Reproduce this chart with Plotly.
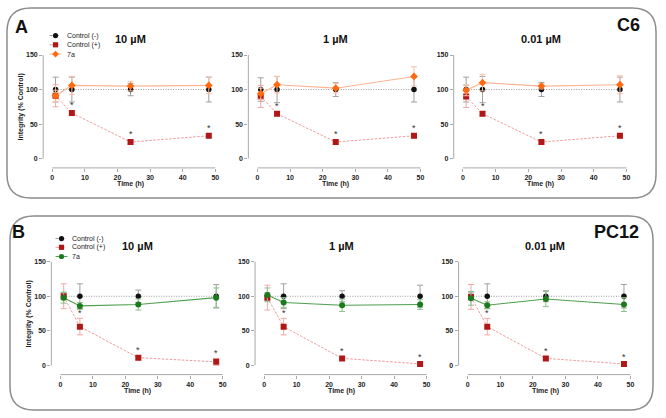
import plotly.graph_objects as go

# ---------------- data ----------------
TIME = [1, 6, 24, 48]
CONCS = ["10 µM", "1 µM", "0.01 µM"]
SERIES = ["Control (-)", "Control (+)", "7a"]
X_TICKS = [0, 10, 20, 30, 40, 50]
Y_TICKS = [0, 50, 100, 150]

# C6 cells (panel A), one row per concentration
c6_neg = [[100, 100, 100, 100], [100, 100, 100, 100], [100, 100, 100, 100]]
c6_neg_err = [[18, 18, 9, 18], [17, 19, 10, 18], [18, 19, 10, 18]]
c6_pos = [[91, 66, 24, 33], [90, 65, 24, 33], [90, 65, 24, 33]]
c6_pos_err = [[16, 3, 3, 3], [16, 3, 3, 3], [16, 3, 3, 3]]
c6_7a = [[91, 106, 105, 106], [94, 107, 102, 119], [99, 110, 105, 107]]
c6_7a_err = [[8, 13, 7, 12], [8, 12, 7, 14], [8, 12, 4, 13]]

# PC12 cells (panel B)
pc_neg = [[100, 100, 100, 100], [100, 100, 100, 100], [100, 100, 100, 100]]
pc_neg_err = [[5, 18, 9, 17], [5, 18, 8, 16], [5, 18, 8, 17]]
pc_pos = [[100, 56, 11, 5], [98, 56, 10, 2], [99, 56, 10, 2]]
pc_pos_err = [[18, 12, 3, 5], [18, 12, 2, 2], [18, 12, 2, 2]]
pc_7a = [[98, 86, 88, 98], [102, 91, 87, 88], [97, 87, 96, 88]]
pc_7a_err = [[8, 5, 8, 14], [10, 7, 9, 7], [10, 5, 11, 10]]

# ---------------- layout helpers ----------------
W, H = 666, 418
FONT = "Arial, Liberation Sans, sans-serif"


def px_x(v):
    return v / W


def px_y(v):
    return 1 - v / H


# pixel boxes of the plotting areas (left, right), rows (top, bottom)
X_DOMAINS = [
    [(43.3, 217.6), (249.1, 423.4), (455.1, 630.0)],
    [(51.5, 225.0), (255.8, 429.5), (460.0, 634.0)],
]
Y_DOMAINS = [(51.9, 166.7), (259.6, 374.4)]

NEG_MARK = "#111111"
NEG_LINE = "#9a9a9a"
POS_MARK = "#b01818"
POS_LINE = "#f29a9a"
ROW_STYLE = [
    dict(mark="#ff6a10", line="#fbb494", err="#f9c0a8", symbol="diamond", size=6),
    dict(mark="#1b7a1b", line="#4f9f4f", err="#8cc08c", symbol="circle", size=6),
]

rows = [
    (c6_neg, c6_neg_err, c6_pos, c6_pos_err, c6_7a, c6_7a_err),
    (pc_neg, pc_neg_err, pc_pos, pc_pos_err, pc_7a, pc_7a_err),
]

fig = go.Figure()
layout = dict(
    width=W, height=H, margin=dict(l=0, r=0, t=0, b=0),
    paper_bgcolor="white", plot_bgcolor="white", showlegend=False,
    font=dict(family=FONT, color="#222222"),
)
shapes = []
annotations = []

AX_COLOR = "#a8a8a8"

for r, (neg, neg_e, pos, pos_e, t7, t7_e) in enumerate(rows):
    st = ROW_STYLE[r]
    for c in range(3):
        idx = r * 3 + c + 1
        xa = "x" if idx == 1 else f"x{idx}"
        ya = "y" if idx == 1 else f"y{idx}"
        xl, xr = X_DOMAINS[r][c]
        yt, yb = Y_DOMAINS[r]
        layout["xaxis" if idx == 1 else f"xaxis{idx}"] = dict(
            domain=[px_x(xl), px_x(xr)], range=[-2.8, 50.5], anchor=ya,
            tickvals=X_TICKS, ticks="outside", ticklen=3, tickcolor=AX_COLOR,
            tickwidth=1, showline=False, showgrid=False, zeroline=False,
            tickfont=dict(size=7, family=FONT, color="#222", weight="bold"),
        )
        layout["yaxis" if idx == 1 else f"yaxis{idx}"] = dict(
            domain=[px_y(yb), px_y(yt)], range=[-13.5, 152], anchor=xa,
            tickvals=Y_TICKS, ticks="outside", ticklen=3, tickcolor=AX_COLOR,
            tickwidth=1, showline=False, showgrid=False, zeroline=False,
            tickfont=dict(size=7, family=FONT, color="#222", weight="bold"),
        )
        # detached axis lines
        shapes.append(dict(type="line", xref=xa, x0=0, x1=50,
                           yref=f"{ya} domain", y0=0, y1=0,
                           line=dict(color=AX_COLOR, width=1)))
        shapes.append(dict(type="line", xref=f"{xa} domain", x0=0, x1=0,
                           yref=ya, y0=0, y1=150,
                           line=dict(color=AX_COLOR, width=1)))

        # Control (-)
        fig.add_trace(go.Scatter(
            x=TIME, y=neg[c], xaxis=xa, yaxis=ya, mode="lines+markers",
            name=SERIES[0],
            line=dict(color=NEG_LINE, width=1, dash="1px,1.5px"),
            marker=dict(color=NEG_MARK, size=5.5, symbol="circle"),
            error_y=dict(type="data", array=neg_e[c], color="#a0a0a0",
                         thickness=1, width=3),
        ))
        # Control (+)
        fig.add_trace(go.Scatter(
            x=TIME, y=pos[c], xaxis=xa, yaxis=ya, mode="lines+markers",
            name=SERIES[1],
            line=dict(color=POS_LINE, width=1, dash="2.5px,1.5px"),
            marker=dict(color=POS_MARK, size=6, symbol="square"),
            error_y=dict(type="data", array=pos_e[c], color="#f4a8a8",
                         thickness=1, width=3),
        ))
        # 7a
        fig.add_trace(go.Scatter(
            x=TIME, y=t7[c], xaxis=xa, yaxis=ya, mode="lines+markers",
            name=SERIES[2],
            line=dict(color=st["line"], width=1.1),
            marker=dict(color=st["mark"], size=st["size"], symbol=st["symbol"]),
            error_y=dict(type="data", array=t7_e[c], color=st["err"],
                         thickness=1, width=3),
        ))
        # significance asterisks above Control (+)
        for i in range(1, len(TIME)):
            annotations.append(dict(
                xref=xa, yref=ya, x=TIME[i], y=pos[c][i] + pos_e[c][i] + 8,
                text="*", showarrow=False, yanchor="middle",
                font=dict(size=9, family=FONT, color="#333"),
            ))
        # concentration title
        annotations.append(dict(
            xref=f"{xa} domain", yref="paper", x=0.5,
            y=px_y(37 if r == 0 else 245), text=CONCS[c], showarrow=False,
            yanchor="middle",
            font=dict(size=11, family=FONT, color="#111", weight="bold"),
        ))
        # x axis title
        annotations.append(dict(
            xref=f"{xa} domain", yref="paper", x=0.5,
            y=px_y(183 if r == 0 else 391), text="Time (h)", showarrow=False,
            yanchor="middle",
            font=dict(size=7, family=FONT, color="#222", weight="bold"),
        ))
    # y axis title
    annotations.append(dict(
        xref="paper", yref="paper", x=px_x(22 if r == 0 else 29),
        y=px_y(105 if r == 0 else 313), text="Integrity (% Control)",
        showarrow=False, textangle=-90, xanchor="center", yanchor="middle",
        font=dict(size=7, family=FONT, color="#222", weight="bold"),
    ))

# panel labels
for txt, x, y, anchor in [("A", 22, 25, "center"), ("C6", 644, 23, "right"),
                          ("B", 19, 231, "center"), ("PC12", 643, 231, "right")]:
    annotations.append(dict(
        xref="paper", yref="paper", x=px_x(x), y=px_y(y), text=txt,
        showarrow=False, xanchor=anchor, yanchor="middle",
        font=dict(size=18, family=FONT, color="#111", weight="bold"),
    ))


# rounded frames
def rounded(l, t, rgt, b, rad):
    pts = [
        ("M", l + rad, t), ("L", rgt - rad, t), ("Q", rgt, t, rgt, t + rad),
        ("L", rgt, b - rad), ("Q", rgt, b, rgt - rad, b), ("L", l + rad, b),
        ("Q", l, b, l, b - rad), ("L", l, t + rad), ("Q", l, t, l + rad, t),
    ]
    out = []
    for p in pts:
        cmd = p[0]
        coords = p[1:]
        s = []
        for k in range(0, len(coords), 2):
            s.append(f"{px_x(coords[k]):.5f},{px_y(coords[k + 1]):.5f}")
        out.append(cmd + " " + " ".join(s))
    return " ".join(out) + " Z"


for (l, t, rgt, b) in [(7, 6, 658, 197), (10, 215, 655, 410)]:
    shapes.append(dict(type="path", xref="paper", yref="paper",
                       path=rounded(l, t, rgt, b, 24),
                       line=dict(color="#8c8c8c", width=1.5)))

# manual legends
LEG = [
    dict(mx=55.7, rows=[33.7, 43.0, 52.3]),
    dict(mx=61.7, rows=[237.7, 246.5, 255.7]),
]
for r, lg in enumerate(LEG):
    st = ROW_STYLE[r]
    mx = lg["mx"]
    specs = [
        (NEG_LINE, "dot", NEG_MARK, "circle"),
        (POS_LINE, "dash", POS_MARK, "square"),
        (st["line"], "solid", st["mark"], st["symbol"]),
    ]
    for k, (lc, dash, mc, sym) in enumerate(specs):
        yy = lg["rows"][k]
        shapes.append(dict(type="line", xref="paper", yref="paper",
                           x0=px_x(mx - 6), x1=px_x(mx + 6), y0=px_y(yy), y1=px_y(yy),
                           line=dict(color=lc, width=1, dash=dash)))
        s = 2.6
        if sym == "circle":
            shapes.append(dict(type="circle", xref="paper", yref="paper",
                               x0=px_x(mx - s), x1=px_x(mx + s),
                               y0=px_y(yy + s), y1=px_y(yy - s),
                               fillcolor=mc, line=dict(width=0)))
        elif sym == "square":
            shapes.append(dict(type="rect", xref="paper", yref="paper",
                               x0=px_x(mx - s), x1=px_x(mx + s),
                               y0=px_y(yy + s), y1=px_y(yy - s),
                               fillcolor=mc, line=dict(width=0)))
        else:
            d = 3.4
            path = (f"M {px_x(mx):.5f},{px_y(yy - d):.5f} "
                    f"L {px_x(mx + d):.5f},{px_y(yy):.5f} "
                    f"L {px_x(mx):.5f},{px_y(yy + d):.5f} "
                    f"L {px_x(mx - d):.5f},{px_y(yy):.5f} Z")
            shapes.append(dict(type="path", xref="paper", yref="paper",
                               path=path, fillcolor=mc, line=dict(width=0)))
        annotations.append(dict(
            xref="paper", yref="paper", x=px_x(mx + 9), y=px_y(yy),
            text=SERIES[k], showarrow=False, xanchor="left", yanchor="middle",
            font=dict(size=7, family=FONT, color="#222"),
        ))

layout["shapes"] = shapes
layout["annotations"] = annotations
fig.update_layout(**layout)
fig.write_html(
    "out.html",
    config={"displayModeBar": False},
    post_script="document.body.style.margin='0';document.body.style.overflow='hidden';",
)
